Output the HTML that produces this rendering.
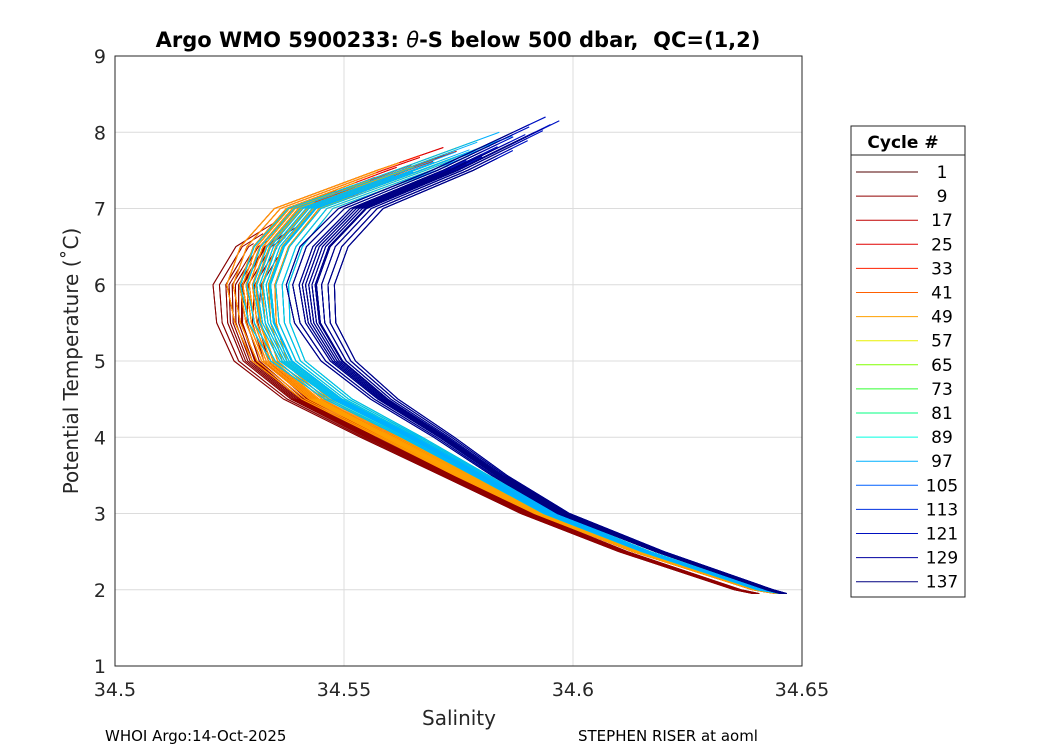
<!DOCTYPE html>
<html><head><meta charset="utf-8"><style>
body{margin:0;background:#fff;font-family:"Liberation Sans","DejaVu Sans",sans-serif}
</style></head><body>
<svg width="1050" height="750" xmlns="http://www.w3.org/2000/svg" style="font-family:'DejaVu Sans','Liberation Sans',sans-serif">
<rect width="1050" height="750" fill="#fff"/>
<rect x="115" y="56" width="687" height="610" fill="#fff" stroke="none"/>
<g id="grid"></g>
<g id="lines"></g>
<rect x="115" y="56" width="687" height="610" fill="none" stroke="#262626" stroke-width="1"/>
<g id="axes"></g>
<text x="458" y="47" text-anchor="middle" font-size="21" font-weight="bold" fill="#000" xml:space="preserve">Argo WMO 5900233: <tspan font-style="italic" font-weight="normal">θ</tspan>-S below 500 dbar,  QC=(1,2)</text>
<text x="459" y="725" text-anchor="middle" font-size="20" fill="#262626">Salinity</text>
<text transform="translate(78,361) rotate(-90)" text-anchor="middle" font-size="20" fill="#262626">Potential Temperature (˚C)</text>
<text x="105" y="741" font-size="15" fill="#000">WHOI Argo:14-Oct-2025</text>
<text x="578" y="741" font-size="15" fill="#000">STEPHEN RISER at aoml</text>
<g id="legend">
<rect x="851" y="126" width="114" height="471" fill="#fff" stroke="#262626"/>
<line x1="851" y1="155" x2="965" y2="155" stroke="#262626"/>
<text x="903" y="148" text-anchor="middle" font-size="17" font-weight="bold">Cycle #</text>
</g>
</svg>
<script>
const cycles=[1,9,17,25,33,41,49,57,65,73,81,89,97,105,113,121,129,137];
const colors=["#500000","#900000","#c00000","#e00000","#ff2000","#ff6000","#ffa000","#e8f000","#80ff00","#30ff30","#00ff80","#00ffe0","#00b0ff","#0060ff","#0030e0","#0010c0","#0000a0","#000080"];
const levels=[8.2,7.5,7,6.5,6,5.5,5,4.5,4,3.5,3,2.5,2,1.95];
const curveA=[34.590,34.560,34.545,34.532,34.527,34.527,34.530,34.540,34.556,34.573,34.590,34.611,34.636,34.640];
const curveB=[34.595,34.562,34.540,34.533,34.530,34.531,34.534,34.544,34.560,34.576,34.593,34.614,34.640,34.645];
const curveC=[34.597,34.566,34.543,34.536,34.533,34.534,34.538,34.549,34.565,34.580,34.595,34.616,34.641,34.646];
const curveD=[34.598,34.574,34.554,34.546,34.543,34.544,34.549,34.559,34.572,34.584,34.598,34.619,34.643,34.646];
const groupCurve=["A","A","B","B","B","B","B","C","C","C","C","C","C","D","D","D","D","D"];
const tmax=[6.6,6.8,7.8,7.8,7.7,7.6,7.6,7.8,7.9,7.3,7.0,7.3,8.0,8.1,8.2,8.2,8.1,8.0];
const offsets=[-0.004,-0.003,-0.002,-0.001,0,0.0007,0.0015,0.0025,0.0035,-0.0015,0.0005,-0.0005];
const weights=[1.0,1.2,1.3,1.4,1.4,1.2,1.0,0.8,0.6,0.45,0.35,0.25,0.2,0.2];
const xTicks=[34.5,34.55,34.6,34.65];
const yTicks=[1,2,3,4,5,6,7,8,9];
const curves={A:curveA,B:curveB,C:curveC,D:curveD};
const X=s=>115+(s-34.5)/0.15*687, Y=t=>666-(t-1)*76.25;
const NS="http://www.w3.org/2000/svg";
const grid=document.getElementById('grid'),axes=document.getElementById('axes'),lines=document.getElementById('lines'),leg=document.getElementById('legend');
function mk(tag,attrs,parent){const e=document.createElementNS(NS,tag);for(const k in attrs)e.setAttribute(k,attrs[k]);parent.appendChild(e);return e;}
xTicks.forEach(v=>{
 const g=mk('line',{x1:X(v),x2:X(v),y1:56,y2:666,stroke:'#dcdcdc'},grid);
 
 
 const t=mk('text',{x:X(v),y:696,'text-anchor':'middle','font-size':19,fill:'#262626'},axes);
 t.textContent=String(v);
 
 
});
yTicks.forEach(v=>{
 const g=mk('line',{x1:115,x2:802,y1:Y(v),y2:Y(v),stroke:'#dcdcdc'},grid);
 
 
 const t=mk('text',{x:106,y:Y(v)+7,'text-anchor':'end','font-size':19,fill:'#262626'},axes);
 t.textContent=v;
 
 
});
cycles.forEach((c,gi)=>{
 const cv=curves[groupCurve[gi]];
 offsets.forEach((o,oi)=>{
  const tm=tmax[gi]-(oi*0.13)%0.6;
  const pts=[];
  for(let i=0;i<levels.length;i++){
   const s=cv[i]+o*weights[i];
   if(levels[i]<=tm){
    if(i>0&&levels[i-1]>tm&&pts.length===0){
     const f=(tm-levels[i])/(levels[i-1]-levels[i]);
     const sp=cv[i-1]+o*weights[i-1];
     pts.push([X(s+(sp-s)*f),Y(tm)]);
    }
    pts.push([X(s),Y(levels[i])]);
   }
  }
  const p=mk('polyline',{points:pts.map(q=>q.join(',')).join(' '),fill:'none',stroke:colors[gi],'stroke-width':1},lines);
  
  
 });
 const ly=172+gi*24.1;
 const l=mk('line',{x1:856,x2:918,y1:ly,y2:ly,stroke:colors[gi]},leg);
 
 
 const t=mk('text',{x:942,y:ly+6,'text-anchor':'middle','font-size':17,fill:'#000'},leg);
 t.textContent=c;
 
 
});
</script>
</body></html>
